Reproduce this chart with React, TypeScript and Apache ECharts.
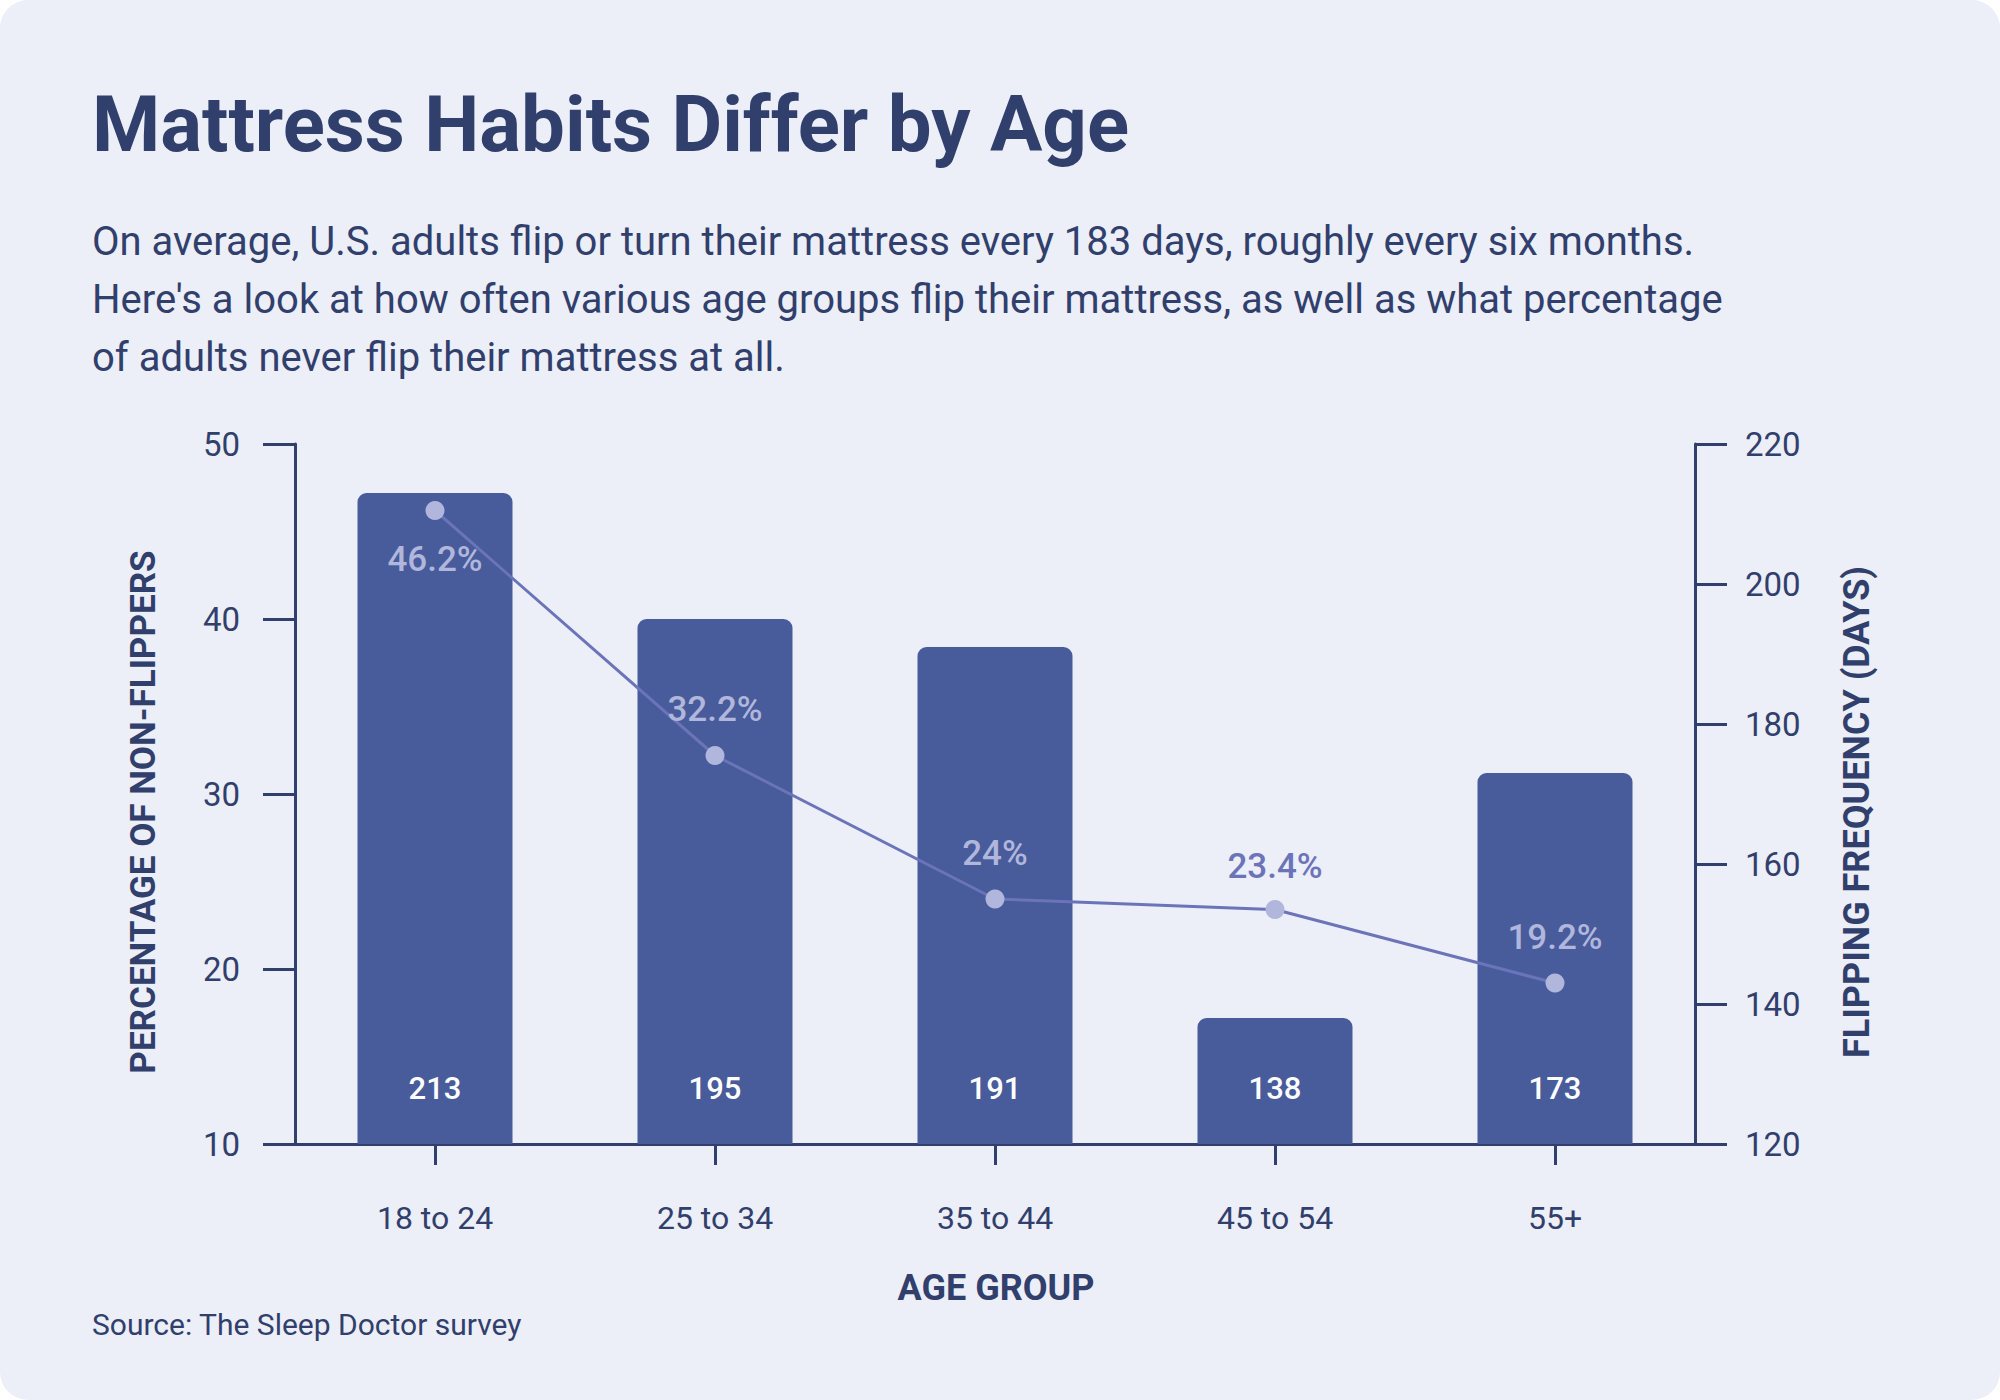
import React, { useEffect, useRef } from "react";
import * as echarts from "echarts";

const categories = ["18 to 24", "25 to 34", "35 to 44", "45 to 54", "55+"];
const flipDays = [213, 195, 191, 138, 173];
const nonFlipPct = [46.2, 32.2, 24, 23.4, 19.2];

const titleText = "Mattress Habits Differ by Age";
const subtitleLines = [
  "On average, U.S. adults flip or turn their mattress every 183 days, roughly every six months.",
  "Here's a look at how often various age groups flip their mattress, as well as what percentage",
  "of adults never flip their mattress at all.",
];
const sourceText = "Source: The Sleep Doctor survey";
const leftAxisName = "PERCENTAGE OF NON-FLIPPERS";
const rightAxisName = "FLIPPING FREQUENCY (DAYS)";
const xAxisName = "AGE GROUP";

const NAVY = "#313f6c";
const BAR = "#485b9a";
const LINE = "#6b74b8";
const DOT = "#b1b6dc";
const FONT = "Roboto, 'Open Sans', sans-serif";

export default function App() {
  const ref = useRef<HTMLDivElement>(null);
  useEffect(() => {
    if (!ref.current) return;
    const chart = echarts.init(ref.current, null, { renderer: "svg" });
    const axisStyle = { lineStyle: { color: NAVY, width: 3 } };
    const option: any = {
      animation: false,
      backgroundColor: "transparent",
      textStyle: { fontFamily: FONT },
      grid: { left: 295, right: 305, top: 444, bottom: 256, containLabel: false },
      xAxis: {
        type: "category",
        data: categories,
        boundaryGap: true,
        axisLine: { show: true, ...axisStyle },
        axisTick: { show: true, alignWithLabel: true, length: 21, lineStyle: { color: NAVY, width: 3 } },
        axisLabel: { color: NAVY, fontSize: 32, margin: 58, fontFamily: FONT },
        splitLine: { show: false },
      },
      yAxis: [
        {
          type: "value",
          min: 10,
          max: 50,
          interval: 10,
          position: "left",
          axisLine: { show: true, ...axisStyle },
          axisTick: { show: true, length: 32, lineStyle: { color: NAVY, width: 3 } },
          axisLabel: { color: NAVY, fontSize: 33, margin: 55, fontFamily: FONT },
          splitLine: { show: false },
        },
        {
          type: "value",
          min: 120,
          max: 220,
          interval: 20,
          position: "right",
          axisLine: { show: true, ...axisStyle },
          axisTick: { show: true, length: 32, lineStyle: { color: NAVY, width: 3 } },
          axisLabel: { color: NAVY, fontSize: 33, margin: 50, fontFamily: FONT },
          splitLine: { show: false },
        },
      ],
      series: [
        {
          type: "bar",
          yAxisIndex: 1,
          data: flipDays,
          barWidth: 155,
          itemStyle: { color: BAR, borderRadius: [9, 9, 0, 0] },
          label: {
            show: true,
            position: "insideBottom",
            distance: 40,
            color: "#ffffff",
            fontSize: 31,
            fontWeight: 500,
            fontFamily: FONT,
          },
          z: 2,
        },
        {
          type: "line",
          yAxisIndex: 0,
          data: nonFlipPct.map((v, i) => ({
            value: v,
            label: {
              position: i === 0 ? "bottom" : "top",
              distance: i === 0 ? 22 : i === 3 ? 16 : 19,
              color: i === 3 ? LINE : DOT,
            },
          })),
          symbol: "circle",
          symbolSize: 19,
          lineStyle: { color: LINE, width: 3 },
          itemStyle: { color: DOT },
          label: {
            show: true,
            formatter: (p: any) => `${p.value}%`,
            fontSize: 35,
            fontWeight: 500,
            fontFamily: FONT,
          },
          z: 5,
        },
      ],
      graphic: [
        {
          type: "text",
          left: 92,
          top: 124.5 - 39,
          style: { text: titleText, fill: NAVY, font: `bold 78px ${FONT}`, textVerticalAlign: "top" },
        },
        ...subtitleLines.map((t, i) => ({
          type: "text",
          x: 92,
          y: 241 + i * 58,
          style: {
            text: t,
            fill: NAVY,
            fontSize: 40,
            fontFamily: FONT,
            textAlign: "left",
            textVerticalAlign: "middle",
          },
        })),
        {
          type: "text",
          x: 143,
          y: 812,
          rotation: Math.PI / 2,
          style: {
            text: leftAxisName,
            fill: NAVY,
            fontSize: 35,
            fontWeight: "bold",
            fontFamily: FONT,
            textAlign: "center",
            textVerticalAlign: "middle",
          },
        },
        {
          type: "text",
          x: 1857,
          y: 812,
          rotation: Math.PI / 2,
          style: {
            text: rightAxisName,
            fill: NAVY,
            fontSize: 36,
            fontWeight: "bold",
            fontFamily: FONT,
            textAlign: "center",
            textVerticalAlign: "middle",
          },
        },
        {
          type: "text",
          x: 996,
          y: 1288,
          style: {
            text: xAxisName,
            fill: NAVY,
            fontSize: 36,
            fontWeight: "bold",
            fontFamily: FONT,
            textAlign: "center",
            textVerticalAlign: "middle",
          },
        },
        {
          type: "text",
          x: 92,
          y: 1324,
          style: {
            text: sourceText,
            fill: NAVY,
            fontSize: 30,
            fontFamily: FONT,
            textAlign: "left",
            textVerticalAlign: "middle",
          },
        },
      ],
    };
    chart.setOption(option);
    return () => chart.dispose();
  }, []);

  return (
    <div style={{ position: "fixed", left: 0, top: 0, width: 2000, height: 1400, background: "#ffffff" }}>
      <div
        ref={ref}
        style={{ width: 2000, height: 1400, background: "#eceef8", borderRadius: 28, overflow: "hidden" }}
      />
    </div>
  );
}
